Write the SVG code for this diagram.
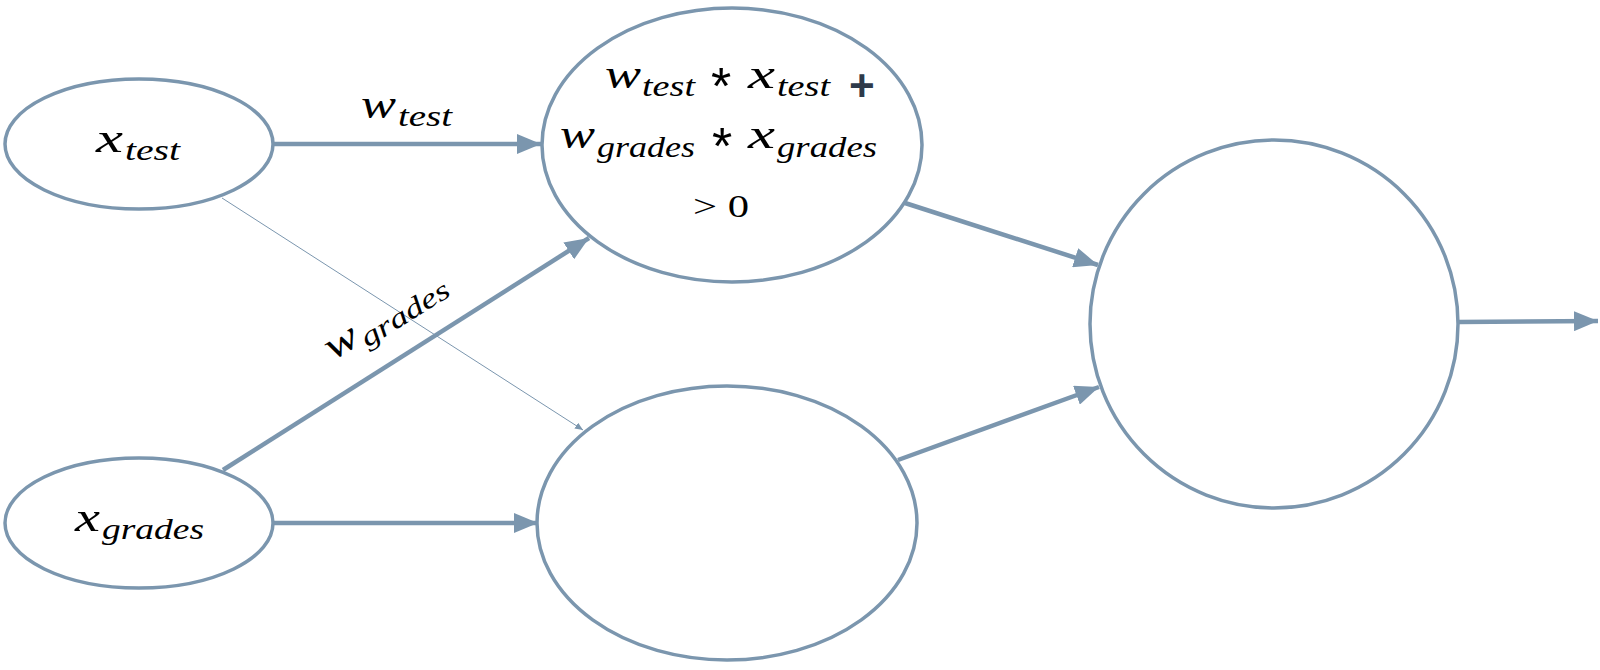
<svg xmlns="http://www.w3.org/2000/svg" width="1600" height="670" viewBox="0 0 1600 670">
<defs>
<style>
.node{fill:#ffffff;stroke:#7b96ae;stroke-width:3.5}
.edge{fill:none;stroke:#7b96ae;stroke-width:4.5}
.thin{fill:none;stroke:#7b96ae;stroke-width:1}
.m{font-family:"Liberation Serif",serif;font-style:italic;font-size:42px;fill:#000}
.s{font-family:"Liberation Serif",serif;font-style:italic;font-size:29px;fill:#000}
.r{font-family:"Liberation Serif",serif;font-size:32px;fill:#000}
.op{font-family:"Liberation Sans",sans-serif;font-size:52px;fill:#000}
.plus{font-family:"Liberation Sans",sans-serif;font-weight:bold;font-size:44px;fill:#2e3a4a}
</style>
<marker id="ah" markerUnits="userSpaceOnUse" markerWidth="26" markerHeight="20" refX="24" refY="10" orient="auto">
<path d="M0,0 L24,10 L0,20 Z" fill="#7b96ae"/>
</marker>
<marker id="ahs" markerUnits="userSpaceOnUse" markerWidth="9" markerHeight="7" refX="8" refY="3.5" orient="auto">
<path d="M0,0 L8,3.5 L0,7 Z" fill="#7b96ae"/>
</marker>
</defs>
<g id="connectors">
<line class="edge" x1="274" y1="144" x2="541" y2="144" marker-end="url(#ah)"/>
<line class="thin" x1="222" y1="198" x2="583" y2="430" marker-end="url(#ahs)"/>
<line class="edge" x1="223" y1="470" x2="589" y2="238" marker-end="url(#ah)"/>
<line class="edge" x1="274" y1="523" x2="538" y2="523" marker-end="url(#ah)"/>
<line class="edge" x1="905" y1="203" x2="1098" y2="265" marker-end="url(#ah)"/>
<line class="edge" x1="898" y1="460" x2="1099" y2="387" marker-end="url(#ah)"/>
<line class="edge" x1="1459" y1="322" x2="1598" y2="321" marker-end="url(#ah)"/>
<text class="m" x="361" y="118" textLength="35" lengthAdjust="spacingAndGlyphs">w</text>
<text class="s" x="398" y="126" textLength="54" lengthAdjust="spacingAndGlyphs">test</text>
<g transform="translate(333,361) rotate(-32)">
<text class="m" x="0" y="0" style="font-size:40px" textLength="34" lengthAdjust="spacingAndGlyphs">w</text>
<text class="s" x="36" y="7" style="font-size:28px" textLength="100" lengthAdjust="spacingAndGlyphs">grades</text>
</g>
</g>
<g id="x_test">
<ellipse class="node" cx="139" cy="144" rx="134" ry="65"/>
<text class="m" x="96" y="152" textLength="27" lengthAdjust="spacingAndGlyphs">x</text>
<text class="s" x="125" y="160" textLength="55" lengthAdjust="spacingAndGlyphs">test</text>
</g>
<g id="x_grades">
<ellipse class="node" cx="139" cy="523" rx="134" ry="65"/>
<text class="m" x="75" y="531" textLength="25" lengthAdjust="spacingAndGlyphs">x</text>
<text class="s" x="102" y="539" textLength="102" lengthAdjust="spacingAndGlyphs">grades</text>
</g>
<g id="sum">
<ellipse class="node" cx="732" cy="145" rx="190" ry="137"/>
<text class="m" x="605" y="88" textLength="36" lengthAdjust="spacingAndGlyphs">w</text>
<text class="s" x="642" y="96" textLength="53" lengthAdjust="spacingAndGlyphs">test</text>
<text class="op" x="711" y="104">*</text>
<text class="m" x="748" y="88" textLength="27" lengthAdjust="spacingAndGlyphs">x</text>
<text class="s" x="777" y="96" textLength="53" lengthAdjust="spacingAndGlyphs">test</text>
<text class="plus" x="849" y="101">+</text>
<text class="m" x="560" y="148" textLength="35" lengthAdjust="spacingAndGlyphs">w</text>
<text class="s" x="597" y="157" textLength="98" lengthAdjust="spacingAndGlyphs">grades</text>
<text class="op" x="712" y="164">*</text>
<text class="m" x="748" y="148" textLength="27" lengthAdjust="spacingAndGlyphs">x</text>
<text class="s" x="777" y="157" textLength="100" lengthAdjust="spacingAndGlyphs">grades</text>
<text class="r" x="693" y="217" textLength="56" lengthAdjust="spacingAndGlyphs">&gt; 0</text>
</g>
<g id="hidden2">
<ellipse class="node" cx="727" cy="523" rx="190" ry="137"/>
</g>
<g id="output">
<circle class="node" cx="1274" cy="324" r="184"/>
</g>
</svg>
